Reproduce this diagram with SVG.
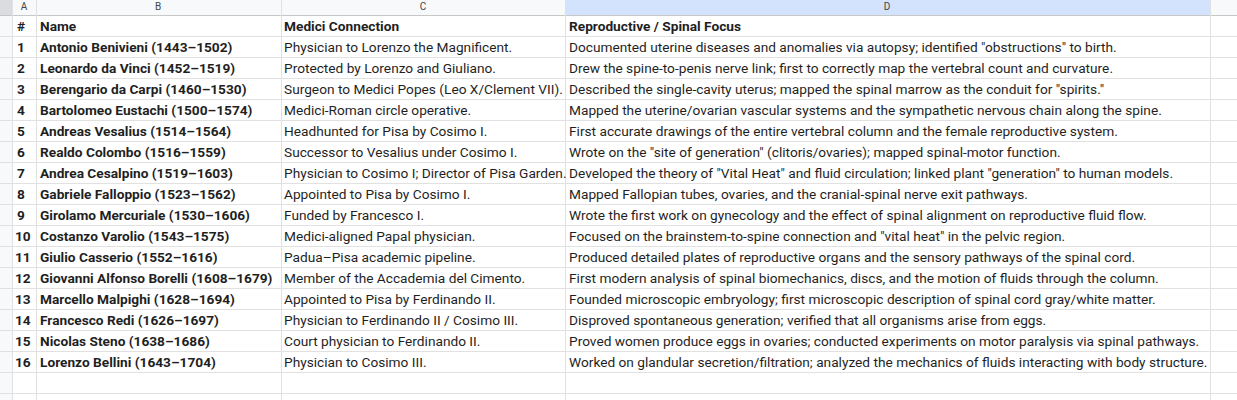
<svg xmlns="http://www.w3.org/2000/svg" width="1237" height="400" viewBox="0 0 1237 400">
<style>
text{font-family:Roboto,"Liberation Sans",sans-serif;font-size:13.7px;fill:#1f1f1f}
.h{font-size:10px;fill:#444;text-anchor:middle}
.b{font-weight:bold}
.g{stroke:#e1e1e1;stroke-width:1}
.gh{stroke:#c7c7c7;stroke-width:1}
</style>
<rect width="1237" height="400" fill="#fff"/>
<rect x="0" y="0" width="1237" height="16" fill="#f8f9fa"/>
<rect x="0" y="0" width="12" height="400" fill="#f8f9fa"/>
<rect x="0" y="0" width="12" height="16" fill="#dadce0"/>
<rect x="565" y="0" width="645" height="16" fill="#d3e3fd"/>
<g id="grid">
<line class="gh" x1="0" y1="15.5" x2="1237" y2="15.5"/>
<line class="g" x1="12.5" y1="0" x2="12.5" y2="400"/>
<line class="g" x1="36.5" y1="0" x2="36.5" y2="400"/>
<line class="g" x1="281.5" y1="0" x2="281.5" y2="400"/>
<line class="g" x1="565.5" y1="0" x2="565.5" y2="400"/>
<line class="g" x1="1210.5" y1="0" x2="1210.5" y2="400"/>
<g class="g">
<line x1="0" y1="36.5" x2="1237" y2="36.5"/><line x1="0" y1="57.5" x2="1237" y2="57.5"/><line x1="0" y1="78.5" x2="1237" y2="78.5"/><line x1="0" y1="99.5" x2="1237" y2="99.5"/><line x1="0" y1="120.5" x2="1237" y2="120.5"/><line x1="0" y1="141.5" x2="1237" y2="141.5"/><line x1="0" y1="162.5" x2="1237" y2="162.5"/><line x1="0" y1="183.5" x2="1237" y2="183.5"/><line x1="0" y1="204.5" x2="1237" y2="204.5"/><line x1="0" y1="225.5" x2="1237" y2="225.5"/><line x1="0" y1="246.5" x2="1237" y2="246.5"/><line x1="0" y1="267.5" x2="1237" y2="267.5"/><line x1="0" y1="288.5" x2="1237" y2="288.5"/><line x1="0" y1="309.5" x2="1237" y2="309.5"/><line x1="0" y1="330.5" x2="1237" y2="330.5"/><line x1="0" y1="351.5" x2="1237" y2="351.5"/><line x1="0" y1="372.5" x2="1237" y2="372.5"/><line x1="0" y1="393.5" x2="1237" y2="393.5"/>
</g>
</g>
<g id="colheads">
<text class="h" x="24" y="10">A</text><text class="h" x="158" y="10">B</text><text class="h" x="423" y="10">C</text><text class="h" x="887" y="10">D</text>
</g>
<g id="header">
<text class="b" x="17" y="31">#</text><text class="b" x="40" y="31">Name</text><text class="b" x="284" y="31">Medici Connection</text><text class="b" x="569" y="31">Reproductive / Spinal Focus</text>
</g>
<g id="rows">
<text class="b" x="17" y="52">1</text><text class="b" x="40" y="52">Antonio Benivieni (1443–1502)</text><text x="284" y="52">Physician to Lorenzo the Magnificent.</text><text x="569" y="52">Documented uterine diseases and anomalies via autopsy; identified "obstructions" to birth.</text>
<text class="b" x="17" y="73">2</text><text class="b" x="40" y="73">Leonardo da Vinci (1452–1519)</text><text x="284" y="73">Protected by Lorenzo and Giuliano.</text><text x="569" y="73">Drew the spine-to-penis nerve link; first to correctly map the vertebral count and curvature.</text>
<text class="b" x="17" y="94">3</text><text class="b" x="40" y="94">Berengario da Carpi (1460–1530)</text><text x="284" y="94">Surgeon to Medici Popes (Leo X/Clement VII).</text><text x="569" y="94">Described the single-cavity uterus; mapped the spinal marrow as the conduit for "spirits."</text>
<text class="b" x="17" y="115">4</text><text class="b" x="40" y="115">Bartolomeo Eustachi (1500–1574)</text><text x="284" y="115">Medici-Roman circle operative.</text><text x="569" y="115">Mapped the uterine/ovarian vascular systems and the sympathetic nervous chain along the spine.</text>
<text class="b" x="17" y="136">5</text><text class="b" x="40" y="136">Andreas Vesalius (1514–1564)</text><text x="284" y="136">Headhunted for Pisa by Cosimo I.</text><text x="569" y="136">First accurate drawings of the entire vertebral column and the female reproductive system.</text>
<text class="b" x="17" y="157">6</text><text class="b" x="40" y="157">Realdo Colombo (1516–1559)</text><text x="284" y="157">Successor to Vesalius under Cosimo I.</text><text x="569" y="157">Wrote on the "site of generation" (clitoris/ovaries); mapped spinal-motor function.</text>
<text class="b" x="17" y="178">7</text><text class="b" x="40" y="178">Andrea Cesalpino (1519–1603)</text><text x="284" y="178">Physician to Cosimo I; Director of Pisa Garden.</text><text x="569" y="178">Developed the theory of "Vital Heat" and fluid circulation; linked plant "generation" to human models.</text>
<text class="b" x="17" y="199">8</text><text class="b" x="40" y="199">Gabriele Falloppio (1523–1562)</text><text x="284" y="199">Appointed to Pisa by Cosimo I.</text><text x="569" y="199">Mapped Fallopian tubes, ovaries, and the cranial-spinal nerve exit pathways.</text>
<text class="b" x="17" y="220">9</text><text class="b" x="40" y="220">Girolamo Mercuriale (1530–1606)</text><text x="284" y="220">Funded by Francesco I.</text><text x="569" y="220">Wrote the first work on gynecology and the effect of spinal alignment on reproductive fluid flow.</text>
<text class="b" x="15" y="241">10</text><text class="b" x="40" y="241">Costanzo Varolio (1543–1575)</text><text x="284" y="241">Medici-aligned Papal physician.</text><text x="569" y="241">Focused on the brainstem-to-spine connection and "vital heat" in the pelvic region.</text>
<text class="b" x="15" y="262">11</text><text class="b" x="40" y="262">Giulio Casserio (1552–1616)</text><text x="284" y="262">Padua–Pisa academic pipeline.</text><text x="569" y="262">Produced detailed plates of reproductive organs and the sensory pathways of the spinal cord.</text>
<text class="b" x="15" y="283">12</text><text class="b" x="40" y="283">Giovanni Alfonso Borelli (1608–1679)</text><text x="284" y="283">Member of the Accademia del Cimento.</text><text x="569" y="283">First modern analysis of spinal biomechanics, discs, and the motion of fluids through the column.</text>
<text class="b" x="15" y="304">13</text><text class="b" x="40" y="304">Marcello Malpighi (1628–1694)</text><text x="284" y="304">Appointed to Pisa by Ferdinando II.</text><text x="569" y="304">Founded microscopic embryology; first microscopic description of spinal cord gray/white matter.</text>
<text class="b" x="15" y="325">14</text><text class="b" x="40" y="325">Francesco Redi (1626–1697)</text><text x="284" y="325">Physician to Ferdinando II / Cosimo III.</text><text x="569" y="325">Disproved spontaneous generation; verified that all organisms arise from eggs.</text>
<text class="b" x="15" y="346">15</text><text class="b" x="40" y="346">Nicolas Steno (1638–1686)</text><text x="284" y="346">Court physician to Ferdinando II.</text><text x="569" y="346">Proved women produce eggs in ovaries; conducted experiments on motor paralysis via spinal pathways.</text>
<text class="b" x="15" y="367">16</text><text class="b" x="40" y="367">Lorenzo Bellini (1643–1704)</text><text x="284" y="367">Physician to Cosimo III.</text><text x="569" y="367">Worked on glandular secretion/filtration; analyzed the mechanics of fluids interacting with body structure.</text>
</g>
</svg>
